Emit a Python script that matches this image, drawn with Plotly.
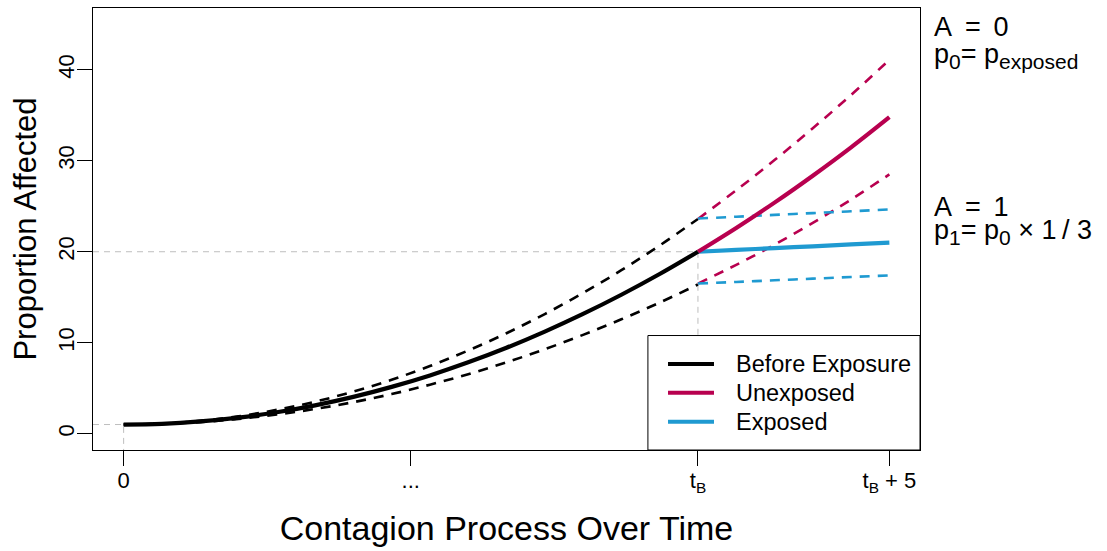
import plotly.graph_objects as go

# ---- data ----
T_B = 15
time_before = [0, 1, 2, 3, 4, 5, 6, 7, 8, 9, 10, 11, 12, 13, 14, 15]
before_mean = [1.00, 1.08, 1.34, 1.76, 2.35, 3.11, 4.04, 5.14, 6.40, 7.84, 9.44, 11.22, 13.16, 15.27, 17.55, 20.0]
before_upper = [1.00, 1.10, 1.40, 1.90, 2.61, 3.51, 4.62, 5.92, 7.43, 9.14, 11.04, 13.15, 15.46, 17.97, 20.69, 23.6]
before_lower = [1.00, 1.07, 1.27, 1.62, 2.10, 2.71, 3.46, 4.35, 5.38, 6.54, 7.84, 9.28, 10.86, 12.57, 14.41, 16.4]

time_after = [15, 16, 17, 18, 19, 20]
unexp_mean = [20.0, 22.62, 25.40, 28.36, 31.48, 34.8]
unexp_upper = [23.6, 26.76, 30.08, 33.58, 37.24, 41.1]
unexp_lower = [16.5, 18.56, 20.78, 23.18, 25.74, 28.5]
exp_mean = [20.0, 20.2, 20.4, 20.6, 20.8, 21.0]
exp_upper = [23.65, 23.85, 24.05, 24.25, 24.45, 24.65]
exp_lower = [16.5, 16.68, 16.86, 17.04, 17.22, 17.4]

x_tickvals = [0, 7.5, 15, 20]
x_ticktext = ["0", "...", "t<sub>B</sub>", "t<sub>B</sub> + 5"]
y_tickvals = [0, 10, 20, 30, 40]
X_RANGE = [-0.8, 20.8]
Y_RANGE = [-1.8, 46.8]

legend_names = ["Before Exposure", "Unexposed", "Exposed"]


def sub(s):
    return '<sub><span style="font-size:21px">' + s + '</span></sub>'


side_texts = ["A\u2009 =\u2009 0", "p" + sub("0") + "= p" + sub("exposed"),
              "A\u2009 =\u2009 1", "p" + sub("1") + "= p" + sub("0") + " × 1\u2009/ 3"]

BLACK = "#000000"
CRIMSON = "#B8004F"
BLUE = "#1F9AD1"
GRAY = "#BEBEBE"
FONT = "Liberation Sans, Arial, sans-serif"
legend_colors = [BLACK, CRIMSON, BLUE]

fig = go.Figure()

# guide lines (gray dashed)
fig.add_trace(go.Scatter(x=[X_RANGE[0], time_before[-1], time_before[-1]],
                         y=[before_mean[-1], before_mean[-1], Y_RANGE[0]],
                         mode="lines", line=dict(color=GRAY, width=1, dash="6px,5px"),
                         showlegend=False, hoverinfo="skip"))
fig.add_trace(go.Scatter(x=[X_RANGE[0], time_before[0], time_before[0]],
                         y=[before_mean[0], before_mean[0], Y_RANGE[0]],
                         mode="lines", line=dict(color=GRAY, width=1, dash="6px,5px"),
                         showlegend=False, hoverinfo="skip"))

dash_style = "10px,8px"
for xs, ys, col in [
    (time_before, before_upper, BLACK),
    (time_before, before_lower, BLACK),
    (time_after, unexp_upper, CRIMSON),
    (time_after, unexp_lower, CRIMSON),
    (time_after, exp_upper, BLUE),
    (time_after, exp_lower, BLUE),
]:
    fig.add_trace(go.Scatter(x=xs, y=ys, mode="lines",
                             line=dict(color=col, width=2.6, dash=dash_style, shape="spline"),
                             showlegend=False, hoverinfo="skip"))

for xs, ys, col, nm in [
    (time_after, exp_mean, BLUE, legend_names[2]),
    (time_after, unexp_mean, CRIMSON, legend_names[1]),
    (time_before, before_mean, BLACK, legend_names[0]),
]:
    fig.add_trace(go.Scatter(x=xs, y=ys, mode="lines", name=nm,
                             line=dict(color=col, width=4.2, shape="spline"),
                             showlegend=False))

fig.update_layout(
    width=1107, height=551,
    margin=dict(l=93, r=187, t=8, b=101),
    paper_bgcolor="white", plot_bgcolor="white",
    font=dict(family=FONT, color="black"),
    showlegend=False,
)
fig.update_xaxes(range=X_RANGE, tickvals=x_tickvals, ticktext=x_ticktext,
                 showgrid=False, zeroline=False, showline=True, mirror=True,
                 linecolor="black", linewidth=1, ticks="outside", ticklen=15,
                 tickcolor="black", tickfont=dict(size=22, family=FONT),
                 ticklabelstandoff=-4, automargin=False,
                 title=dict(text="Contagion Process Over Time", font=dict(size=34, family=FONT), standoff=21))
fig.update_yaxes(range=Y_RANGE, tickvals=y_tickvals, tickangle=-90,
                 showgrid=False, zeroline=False, showline=True, mirror=True,
                 linecolor="black", linewidth=1, ticks="outside", ticklen=15,
                 tickcolor="black", tickfont=dict(size=22, family=FONT),
                 ticklabelstandoff=-6, automargin=False,
                 title=dict(text="Proportion Affected", font=dict(size=31, family=FONT), standoff=8))

# legend box (drawn manually to match the reference layout)
fig.add_shape(type="rect", xref="paper", yref="paper", x0=0.671, x1=1.0, y0=0.0, y1=0.259,
              line=dict(color="black", width=1), fillcolor="white", layer="above")
for i, (nm, col) in enumerate(zip(legend_names, legend_colors)):
    yy = [0.1946, 0.1296, 0.0640][i]
    fig.add_shape(type="line", xref="paper", yref="paper", x0=0.6953, x1=0.7509, y0=yy, y1=yy,
                  line=dict(color=col, width=4), layer="above")
    fig.add_annotation(text=nm, xref="paper", yref="paper", x=0.7751, y=yy,
                       xanchor="left", yanchor="middle", showarrow=False,
                       font=dict(size=23.5, family=FONT, color="black"))

ann_font = dict(size=27, family=FONT, color="black")
for text, yy in zip(side_texts, [0.957, 0.891, 0.550, 0.493]):
    fig.add_annotation(text=text, xref="paper", yref="paper", x=1.0145, y=yy,
                       xanchor="left", yanchor="middle", showarrow=False, font=ann_font)

fig.write_html("out.html", config={"displayModeBar": False},
               post_script="document.body.style.margin='0';")
